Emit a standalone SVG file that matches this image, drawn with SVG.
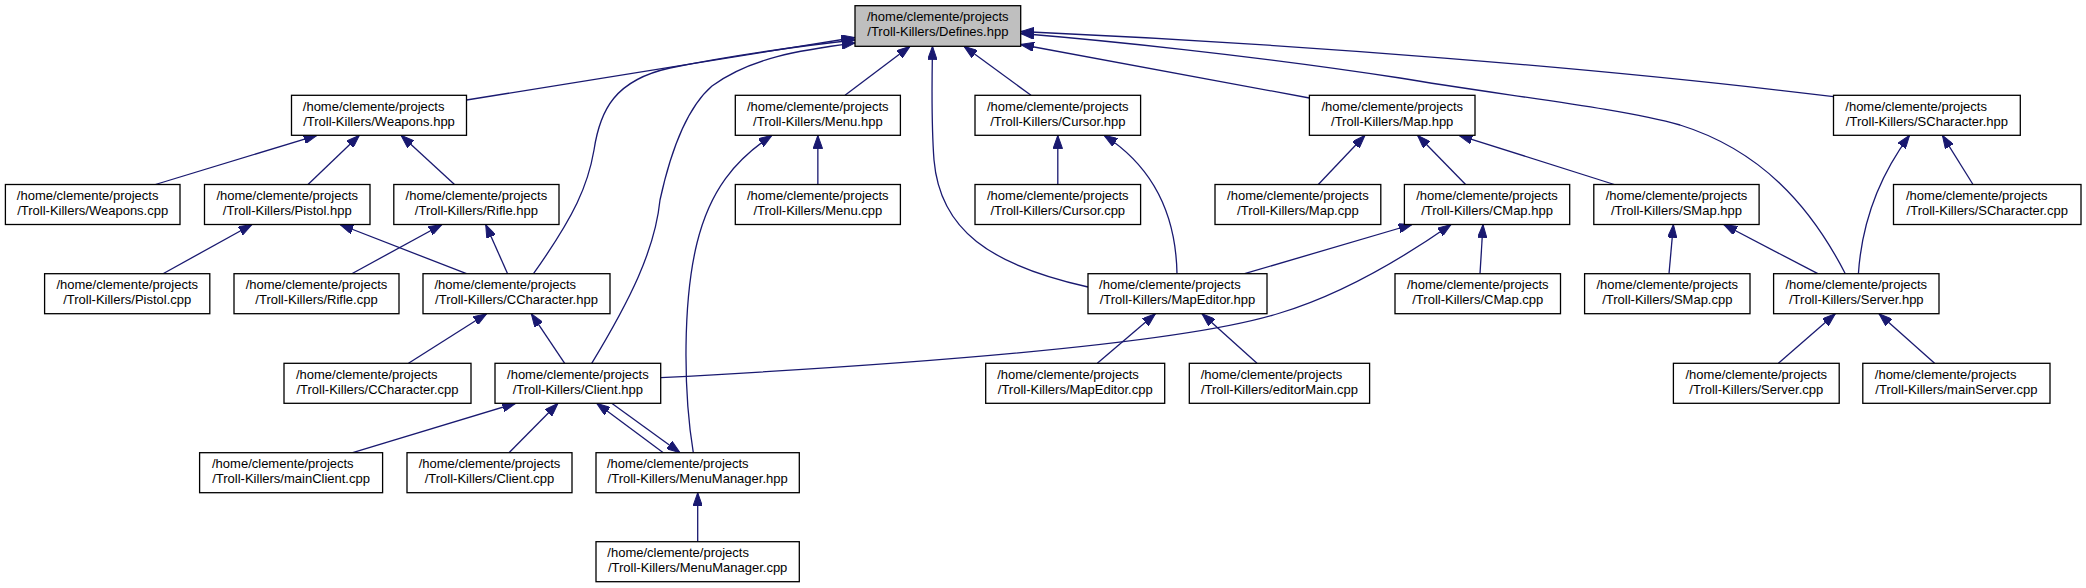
<svg xmlns="http://www.w3.org/2000/svg" width="2086" height="588" viewBox="0 0 2086 588">
<defs>
<style>
.n rect{fill:#fff;stroke:#000;stroke-width:1.3}
.root rect{fill:#bfbfbf}
text{font-family:"Liberation Sans",Arial,sans-serif;font-size:13px;fill:#000}
.c{text-anchor:middle}
#edges path{fill:none;stroke:#191970;stroke-width:1.3;marker-end:url(#a)}
</style>
<marker id="a" markerUnits="userSpaceOnUse" viewBox="0 0 13.3 9.4" refX="13.3" refY="4.7" markerWidth="13.3" markerHeight="9.4" orient="auto">
<path d="M0,0 L13.3,4.7 L0,9.4 z" fill="#191970" stroke="#191970" stroke-width="1"/>
</marker>
</defs>
<rect width="2086" height="588" fill="#fff"/>
<g id="edges">
<path d="M466.5,100 L855,37.5"/>
<path d="M533.5,273.7 C575,215 588,185 594,150 C600,110 615,80 670,68 C730,56 800,46 855,40"/>
<path d="M591.7,363.3 C630,300 655,250 660,200 C672,145 690,105 712,86 C750,58 800,50 855,43"/>
<path d="M845,95.3 L910,46.3"/>
<path d="M1088,287 C990,265 940,230 934,160 C931,120 932,80 932.5,46.3"/>
<path d="M1031,95.3 L964,46.3"/>
<path d="M1309.4,98 L1020.7,44.5"/>
<path d="M1845.3,273.7 C1810,205 1760,150 1680,125 C1620,108 1500,95 1400,78 C1250,55 1100,40 1020.7,33.5"/>
<path d="M1833.5,96.7 C1600,68 1300,44 1020.7,31.5"/>
<path d="M155.4,184.5 L317,135.3"/>
<path d="M308,184.5 L359.4,135.3"/>
<path d="M454.5,184.5 L401,135.3"/>
<path d="M163,273.7 L252,224.5"/>
<path d="M466.5,273.7 L340,224.5"/>
<path d="M351.8,273.7 L442,224.5"/>
<path d="M507.6,273.7 L485.7,224.5"/>
<path d="M408.5,363.3 L486.6,313.7"/>
<path d="M564.7,363.3 L531.3,313.7"/>
<path d="M352.7,452.7 L515.6,403.3"/>
<path d="M509,452.7 L558,403.3"/>
<path d="M663.3,452.7 L596.7,403.3"/>
<path d="M611.7,403.3 L680,452.7"/>
<path d="M697.7,541.7 L697.7,492.7"/>
<path d="M693.3,452.7 C683,390 683,300 697,243 C710,190 735,160 772,135.3"/>
<path d="M817.85,184.5 L817.85,135.3"/>
<path d="M1057.8,184.5 L1057.8,135.3"/>
<path d="M1177,273.7 C1176,220 1158,170 1104,135.3"/>
<path d="M1244.6,273.7 L1412,224.5"/>
<path d="M660.7,377.7 C900,365 1180,345 1280,313 C1340,295 1400,260 1451,224.5"/>
<path d="M1480,273.7 L1483,224.5"/>
<path d="M1318.3,184.5 L1365,135.3"/>
<path d="M1465.6,184.5 L1417.5,135.3"/>
<path d="M1614.3,184.5 L1459,135.3"/>
<path d="M1669,273.7 L1673.4,224.5"/>
<path d="M1817.8,273.7 L1723.7,224.5"/>
<path d="M1858.4,273.7 C1862,220 1880,175 1909.6,135.3"/>
<path d="M1973,184.5 L1942.4,135.3"/>
<path d="M1097.3,363.3 L1155.4,313.7"/>
<path d="M1257,363.3 L1202,313.7"/>
<path d="M1778.4,363.3 L1835.3,313.7"/>
<path d="M1934.6,363.3 L1879,313.7"/>
</g>
<g id="defines_hpp" class="n root"><rect x="855" y="5.7" width="165.7" height="40.6"/><text x="867" y="21.4">/home/clemente/projects</text><text class="c" x="937.85" y="36.4">/Troll-Killers/Defines.hpp</text></g>
<g id="weapons_hpp" class="n"><rect x="291.5" y="95.3" width="175" height="40"/><text x="302.8" y="111">/home/clemente/projects</text><text class="c" x="379" y="126">/Troll-Killers/Weapons.hpp</text></g>
<g id="menu_hpp" class="n"><rect x="735.3" y="95.3" width="165.1" height="40"/><text x="747" y="111">/home/clemente/projects</text><text class="c" x="817.85" y="126">/Troll-Killers/Menu.hpp</text></g>
<g id="cursor_hpp" class="n"><rect x="975" y="95.3" width="165.6" height="40"/><text x="987" y="111">/home/clemente/projects</text><text class="c" x="1057.8" y="126">/Troll-Killers/Cursor.hpp</text></g>
<g id="map_hpp" class="n"><rect x="1309.4" y="95.3" width="165.6" height="40"/><text x="1321.4" y="111">/home/clemente/projects</text><text class="c" x="1392.2" y="126">/Troll-Killers/Map.hpp</text></g>
<g id="scharacter_hpp" class="n"><rect x="1833.5" y="95.3" width="186.8" height="40"/><text x="1845.3" y="111">/home/clemente/projects</text><text class="c" x="1926.9" y="126">/Troll-Killers/SCharacter.hpp</text></g>
<g id="weapons_cpp" class="n"><rect x="5.4" y="184.5" width="174.6" height="40"/><text x="16.85" y="200.2">/home/clemente/projects</text><text class="c" x="92.7" y="215.2">/Troll-Killers/Weapons.cpp</text></g>
<g id="pistol_hpp" class="n"><rect x="204.5" y="184.5" width="165.5" height="40"/><text x="216.45" y="200.2">/home/clemente/projects</text><text class="c" x="287.25" y="215.2">/Troll-Killers/Pistol.hpp</text></g>
<g id="rifle_hpp" class="n"><rect x="393.8" y="184.5" width="165.2" height="40"/><text x="405.6" y="200.2">/home/clemente/projects</text><text class="c" x="476.4" y="215.2">/Troll-Killers/Rifle.hpp</text></g>
<g id="menu_cpp" class="n"><rect x="735.3" y="184.5" width="165.1" height="40"/><text x="747" y="200.2">/home/clemente/projects</text><text class="c" x="817.85" y="215.2">/Troll-Killers/Menu.cpp</text></g>
<g id="cursor_cpp" class="n"><rect x="975" y="184.5" width="165.6" height="40"/><text x="987" y="200.2">/home/clemente/projects</text><text class="c" x="1057.8" y="215.2">/Troll-Killers/Cursor.cpp</text></g>
<g id="map_cpp" class="n"><rect x="1215" y="184.5" width="165.8" height="40"/><text x="1227.1" y="200.2">/home/clemente/projects</text><text class="c" x="1297.9" y="215.2">/Troll-Killers/Map.cpp</text></g>
<g id="cmap_hpp" class="n"><rect x="1404.4" y="184.5" width="165.3" height="40"/><text x="1416.25" y="200.2">/home/clemente/projects</text><text class="c" x="1487.05" y="215.2">/Troll-Killers/CMap.hpp</text></g>
<g id="smap_hpp" class="n"><rect x="1593.8" y="184.5" width="165.3" height="40"/><text x="1605.65" y="200.2">/home/clemente/projects</text><text class="c" x="1676.45" y="215.2">/Troll-Killers/SMap.hpp</text></g>
<g id="scharacter_cpp" class="n"><rect x="1893.5" y="184.5" width="187.5" height="40"/><text x="1906" y="200.2">/home/clemente/projects</text><text class="c" x="1987.25" y="215.2">/Troll-Killers/SCharacter.cpp</text></g>
<g id="pistol_cpp" class="n"><rect x="44.6" y="273.7" width="165.2" height="40"/><text x="56.4" y="289.4">/home/clemente/projects</text><text class="c" x="127.2" y="304.4">/Troll-Killers/Pistol.cpp</text></g>
<g id="rifle_cpp" class="n"><rect x="234" y="273.7" width="165" height="40"/><text x="245.7" y="289.4">/home/clemente/projects</text><text class="c" x="316.5" y="304.4">/Troll-Killers/Rifle.cpp</text></g>
<g id="ccharacter_hpp" class="n"><rect x="423" y="273.7" width="187" height="40"/><text x="434.5" y="289.4">/home/clemente/projects</text><text class="c" x="516.5" y="304.4">/Troll-Killers/CCharacter.hpp</text></g>
<g id="mapeditor_hpp" class="n"><rect x="1088" y="273.7" width="179" height="40"/><text x="1099.1" y="289.4">/home/clemente/projects</text><text class="c" x="1177.5" y="304.4">/Troll-Killers/MapEditor.hpp</text></g>
<g id="cmap_cpp" class="n"><rect x="1395" y="273.7" width="165.5" height="40"/><text x="1406.95" y="289.4">/home/clemente/projects</text><text class="c" x="1477.75" y="304.4">/Troll-Killers/CMap.cpp</text></g>
<g id="smap_cpp" class="n"><rect x="1584.6" y="273.7" width="165.4" height="40"/><text x="1596.5" y="289.4">/home/clemente/projects</text><text class="c" x="1667.3" y="304.4">/Troll-Killers/SMap.cpp</text></g>
<g id="server_hpp" class="n"><rect x="1773.6" y="273.7" width="165.4" height="40"/><text x="1785.5" y="289.4">/home/clemente/projects</text><text class="c" x="1856.3" y="304.4">/Troll-Killers/Server.hpp</text></g>
<g id="ccharacter_cpp" class="n"><rect x="284" y="363.3" width="187" height="40"/><text x="295.9" y="379">/home/clemente/projects</text><text class="c" x="377.5" y="394">/Troll-Killers/CCharacter.cpp</text></g>
<g id="client_hpp" class="n"><rect x="495" y="363.3" width="165.7" height="40"/><text x="507.05" y="379">/home/clemente/projects</text><text class="c" x="577.85" y="394">/Troll-Killers/Client.hpp</text></g>
<g id="mapeditor_cpp" class="n"><rect x="985.7" y="363.3" width="179" height="40"/><text x="997.2" y="379">/home/clemente/projects</text><text class="c" x="1075.2" y="394">/Troll-Killers/MapEditor.cpp</text></g>
<g id="editormain_cpp" class="n"><rect x="1189.3" y="363.3" width="180.3" height="40"/><text x="1200.7" y="379">/home/clemente/projects</text><text class="c" x="1279.45" y="394">/Troll-Killers/editorMain.cpp</text></g>
<g id="server_cpp" class="n"><rect x="1673.4" y="363.3" width="165.8" height="40"/><text x="1685.5" y="379">/home/clemente/projects</text><text class="c" x="1756.3" y="394">/Troll-Killers/Server.cpp</text></g>
<g id="mainserver_cpp" class="n"><rect x="1862.8" y="363.3" width="187.2" height="40"/><text x="1874.8" y="379">/home/clemente/projects</text><text class="c" x="1956.4" y="394">/Troll-Killers/mainServer.cpp</text></g>
<g id="mainclient_cpp" class="n"><rect x="199.6" y="452.7" width="183" height="40"/><text x="212" y="468.4">/home/clemente/projects</text><text class="c" x="291.1" y="483.4">/Troll-Killers/mainClient.cpp</text></g>
<g id="client_cpp" class="n"><rect x="407" y="452.7" width="165" height="40"/><text x="418.7" y="468.4">/home/clemente/projects</text><text class="c" x="489.5" y="483.4">/Troll-Killers/Client.cpp</text></g>
<g id="menumanager_hpp" class="n"><rect x="596" y="452.7" width="203.3" height="40"/><text x="607" y="468.4">/home/clemente/projects</text><text class="c" x="697.65" y="483.4">/Troll-Killers/MenuManager.hpp</text></g>
<g id="menumanager_cpp" class="n"><rect x="596" y="541.7" width="203.3" height="40"/><text x="607.35" y="557.4">/home/clemente/projects</text><text class="c" x="697.65" y="572.4">/Troll-Killers/MenuManager.cpp</text></g>
</svg>
